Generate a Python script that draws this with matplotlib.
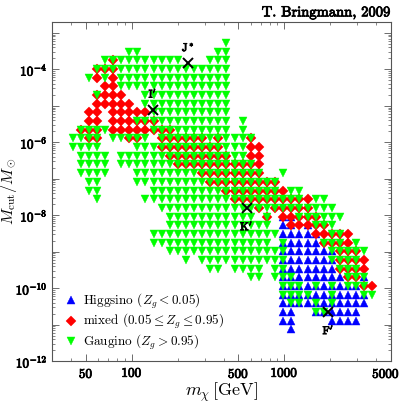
import numpy as np
import matplotlib
matplotlib.use("Agg")
import matplotlib.pyplot as plt
import matplotlib.patheffects as pe
from matplotlib.ticker import FixedLocator, FixedFormatter, NullFormatter
from matplotlib.transforms import ScaledTranslation

plt.rcParams['mathtext.fontset'] = 'cm'
plt.rcParams['font.family'] = 'serif'
plt.rcParams['font.serif'] = ['cmr10', 'DejaVu Serif']
plt.rcParams['axes.formatter.use_mathtext'] = True

# bin centres of the scan (neutralino mass in GeV, cutoff mass in solar masses)
mchi_bins = [40.7, 46.0, 52.0, 58.8, 66.4, 75.1, 84.9, 95.9, 108.4, 122.5,
             138.5, 156.5, 177.0, 200.0, 226.1, 255.5, 288.8, 326.4, 368.9, 417.0,
             471.3, 532.7, 602.1, 680.6, 769.1, 869.4, 982.6, 1111, 1255, 1419,
             1604, 1813, 2049, 2315, 2617, 2958, 3344, 3780]
mcut_bins = [5.28e-4, 3.06e-4, 1.767e-4, 1.02e-4, 5.91e-5, 3.42e-5, 1.975e-5, 1.142e-5,
             6.60e-6, 3.82e-6, 2.21e-6, 1.277e-6, 7.38e-7, 4.27e-7, 2.47e-7, 1.427e-7,
             8.25e-8, 4.77e-8, 2.76e-8, 1.595e-8, 9.23e-9, 5.33e-9, 3.08e-9, 1.784e-9,
             1.031e-9, 5.96e-10, 3.45e-10, 1.994e-10, 1.153e-10, 6.67e-11, 3.85e-11,
             2.23e-11, 1.289e-11, 7.45e-12]

# occupied cells, one string per Mcut bin, one char per mchi bin
# h = Higgsino, m = mixed, g = Gaugino, H = h+g, M = m+g, B = h+m
model_grid = [
    "...................g..................",
    ".......gg.........gg..................",
    "....gMgggggggg...ggg..................",
    "...MMMgggggggggggggg..................",
    "..gmgmgggggggggggggg..................",
    "....mmgggggggggggggg..................",
    "...Mmmm..ggggggggggg..................",
    "...mmmmm.ggggggggggg..................",
    "..mm.mmmmmgggggggggg..................",
    "..mm.mmmMMMggggggggg.g................",
    ".MMMgmmmmmMMMggggggg.g................",
    "ggMM.ggMMg.MMMMMMgMgggM...............",
    "gggg....gggMMMMMMMMgggmm..............",
    ".gggg.ggggggMMMMMMMMggmm..............",
    ".gggg.gggggggMMMMMMMMMMm..............",
    ".gggg...ggggggggMMMMMMMM..g...........",
    "..gg....gggggggggMMMMMMMMM............",
    "..gg......gggggggggMMMMMMMmgg.........",
    "...g.....gggggggggggMMMMMMMMMmgg......",
    "...........ggggggggggggMgMMMMMggg.....",
    "............ggggggggggg.M.BBMMMggg....",
    "............ggggggggggggg.hBmBMMg.....",
    "..........gggggggggggggggghhhhBmMMm...",
    "..........ggggggggggggggg.HhhhhMMMmg..",
    "............ggggggggggggggHhhhhhHMMMg.",
    "..............g.ggggggggggHhhhhhHMMMm.",
    ".................gg.gggg.gHhhhhhhMMMm.",
    "......................gg.gHHhhhhhhMMH.",
    "..........................HHHhHhHhHHMm",
    "..........................HHHHhhHhhhHg",
    "..........................hHHhHhHhhhh.",
    "..........................hh..HHhhhh..",
    "..........................hh....hhhh..",
    "...........................h..........",
]

# benchmark models
bench_names = ["J$^*$", "I$'$", "K$'$", "F$'$"]
bench_mchi = [234, 137, 566, 1945]
bench_mcut = [1.5e-4, 7.9e-6, 1.55e-8, 2.2e-11]
bench_above = [True, True, False, False]

higgsino_x, higgsino_y = [], []
mixed_x, mixed_y = [], []
gaugino_x, gaugino_y = [], []
for r, row in enumerate(model_grid):
    for i, c in enumerate(row):
        if c in 'hHB':
            higgsino_x.append(mchi_bins[i]); higgsino_y.append(mcut_bins[r])
        if c in 'mMB':
            mixed_x.append(mchi_bins[i]); mixed_y.append(mcut_bins[r])
        if c in 'gMH':
            gaugino_x.append(mchi_bins[i]); gaugino_y.append(mcut_bins[r])

bold = [pe.withStroke(linewidth=0.6, foreground='black')]

fig = plt.figure(figsize=(4.04, 4.05), dpi=100)
ax = fig.add_axes([0.1295, 0.108, 0.838, 0.838])

ax.plot(higgsino_x, higgsino_y, ls='none', marker='^', ms=5.4, color='#0000ff',
        mec='#0000ff', mew=0.3, label=r'Higgsino ($Z_g<0.05$)', zorder=2)
ax.plot(mixed_x, mixed_y, ls='none', marker='D', ms=4.6, color='#ff0000',
        mec='#ff0000', mew=0.3, label=r'mixed ($0.05\leq Z_g\leq 0.95$)', zorder=3)
ax.plot(gaugino_x, gaugino_y, ls='none', marker='v', ms=5.4, color='#00ff00',
        mec='#00ff00', mew=0.3, label=r'Gaugino ($Z_g>0.95$)', zorder=4)

ax.plot(bench_mchi, bench_mcut, ls='none', marker='x', ms=7.5, mew=1.4,
        color='black', zorder=6)
for name, x, y, up in zip(bench_names, bench_mchi, bench_mcut, bench_above):
    ax.annotate(name, (x, y), xytext=(0, 7 if up else -8), textcoords='offset points',
                ha='center', va='bottom' if up else 'top', fontsize=8,
                path_effects=bold, zorder=7)

ax.set_xscale('log')
ax.set_yscale('log')
ax.set_xlim(30, 5000)
ax.set_ylim(1e-12, 2e-3)

xt = [50, 100, 500, 1000, 5000]
ax.xaxis.set_major_locator(FixedLocator(xt))
ax.xaxis.set_major_formatter(FixedFormatter([r'$%d$' % v for v in xt]))
xminor = [m * 10.0 ** e for e in (1, 2, 3) for m in range(2, 10)]
ax.xaxis.set_minor_locator(FixedLocator(xminor))
ax.xaxis.set_minor_formatter(NullFormatter())

ydec = list(range(-12, -2))
ax.yaxis.set_major_locator(FixedLocator([10.0 ** e for e in ydec]))
ax.yaxis.set_major_formatter(FixedFormatter(
    [r'$10^{%d}$' % e if e % 2 == 0 else '' for e in ydec]))
yminor = [m * 10.0 ** e for e in range(-12, -2) for m in range(2, 10)]
ax.yaxis.set_minor_locator(FixedLocator(yminor))
ax.yaxis.set_minor_formatter(NullFormatter())

ax.tick_params(which='both', direction='in', top=True, right=True, colors='#555555',
               labelcolor='black', labelsize=9.5)
ax.tick_params(which='major', length=5, width=0.6)
ax.tick_params(which='minor', length=2.5, width=0.5)
ax.tick_params(axis='x', pad=4)
for s in ax.spines.values():
    s.set_color('#555555')
    s.set_linewidth(0.8)

for lab in ax.get_xticklabels() + ax.get_yticklabels():
    lab.set_path_effects(bold)
last = ax.get_xticklabels()[-1]
last.set_transform(last.get_transform() + ScaledTranslation(-3.5 / 72, 0, fig.dpi_scale_trans))

ax.set_xlabel(r'$m_\chi\,[\mathrm{GeV}]$', fontsize=13, labelpad=0)
ax.set_ylabel(r'$M_{\rm cut}/M_\odot$', fontsize=11.5)
ax.yaxis.set_label_coords(-0.098, 0.5)
ax.set_title('T. Bringmann, 2009', loc='right', fontsize=10.5, pad=4, path_effects=bold)

ax.legend(loc='lower left', bbox_to_anchor=(0.022, 0.012), frameon=False, fontsize=9.5,
          handlelength=0.9, handletextpad=0.45, labelspacing=0.1, borderaxespad=0)

fig.savefig('out.png', dpi=100)
